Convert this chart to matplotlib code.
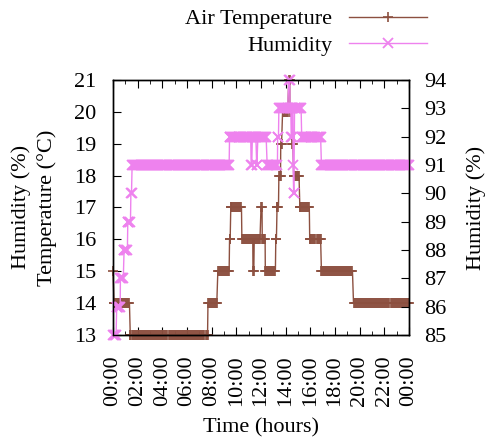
import numpy as np
import matplotlib
matplotlib.use('Agg')
import matplotlib.pyplot as plt
from matplotlib.ticker import MultipleLocator, FuncFormatter

plt.rcParams['font.family'] = ['Liberation Serif', 'DejaVu Serif']
plt.rcParams['font.size'] = 16

# readings: hour at which the logged value changes, and the new value
temp_hours = [0.0, 0.08, 1.4, 7.7, 8.5, 9.45, 9.55, 10.45, 11.35, 11.45, 12.0, 12.1,
              12.35, 13.2, 13.3, 13.45, 13.6, 13.75, 14.25, 14.35, 14.55, 14.65,
              15.15, 15.95, 16.9, 19.5]
temp_vals = [15, 14, 13, 14, 15, 16, 17, 16, 15, 16, 17, 16,
             15, 16, 17, 18, 19, 20, 21, 20, 19, 18,
             17, 16, 15, 14]

hum_hours = [0.0, 0.3, 0.6, 0.9, 1.2, 1.45, 1.55, 9.45, 11.2, 11.3, 11.65, 11.75,
             12.5, 13.35, 13.45, 14.25, 14.35, 14.45, 14.55, 14.6, 14.65, 14.72,
             15.3, 16.9]
hum_vals = [85, 86, 87, 88, 89, 90, 91, 92, 91, 92, 91, 92,
            91, 92, 93, 94, 93, 92, 93, 91, 90, 93,
            92, 91]

step_min = 5  # logging interval (minutes)


def logged(change_h, change_v):
    t = np.union1d(np.arange(0, 24 * 60 + 1, step_min) / 60.0, change_h)
    idx = np.searchsorted(change_h, t, side='right') - 1
    return t, np.asarray(change_v)[idx]


t_temp, v_temp = logged(np.array(temp_hours), temp_vals)
t_hum, v_hum = logged(np.array(hum_hours), hum_vals)

brown = '#8c5040'
pink = '#ee82ee'

fig = plt.figure(figsize=(4.95, 4.44), dpi=100)
ax = fig.add_axes([113 / 495, 1 - 335 / 444, 296 / 495, 255 / 444])
ax2 = ax.twinx()

l1, = ax.plot(t_temp, v_temp, color=brown, lw=1, marker='+', ms=7.5, mew=1.2,
              clip_on=False, label='Air Temperature')
l2, = ax2.plot(t_hum, v_hum, color=pink, lw=1, marker='x', ms=7, mew=1.3,
               clip_on=False, label='Humidity')

ax.set_xlim(0, 24)
ax.set_ylim(13, 21)
ax2.set_ylim(85, 94)

ax.xaxis.set_major_locator(MultipleLocator(2))
ax.xaxis.set_minor_locator(MultipleLocator(1))
ax.xaxis.set_major_formatter(FuncFormatter(lambda v, p: '%02d:00' % (int(round(v)) % 24)))
ax.yaxis.set_major_locator(MultipleLocator(1))
ax2.yaxis.set_major_locator(MultipleLocator(1))

ax.tick_params(axis='x', which='both', direction='in', top=True, rotation=90, pad=15)
ax.tick_params(axis='x', which='major', length=6)
ax.tick_params(axis='x', which='minor', length=3)
ax.tick_params(axis='y', direction='in', length=6, right=False, pad=12)
ax2.tick_params(axis='y', direction='in', length=6, pad=11)

for a in (ax, ax2):
    for s in a.spines.values():
        s.set_linewidth(1.0)

ax.set_xlabel('Time (hours)', va='center')
ax.xaxis.set_label_coords(0.5, (335 - 428) / 255)
ax.set_ylabel('Temperature (°C)', va='center')
ax.yaxis.set_label_coords((47 - 113) / 296, 0.5)
ax2.set_ylabel('Humidity (%)', va='center', rotation=90)
ax2.yaxis.set_label_coords((476 - 113) / 296, 0.5)
fig.text(21 / 495, 1 - 207 / 444, 'Humidity (%)', rotation=90, ha='center', va='center')

fig.legend(handles=[l1, l2], loc='upper right', bbox_to_anchor=(438 / 495, 1.005),
           frameon=False, markerfirst=False, numpoints=1, handlelength=3.5,
           handletextpad=0.75, labelspacing=0.25, borderaxespad=0.1)

fig.savefig('out.png', dpi=100)
